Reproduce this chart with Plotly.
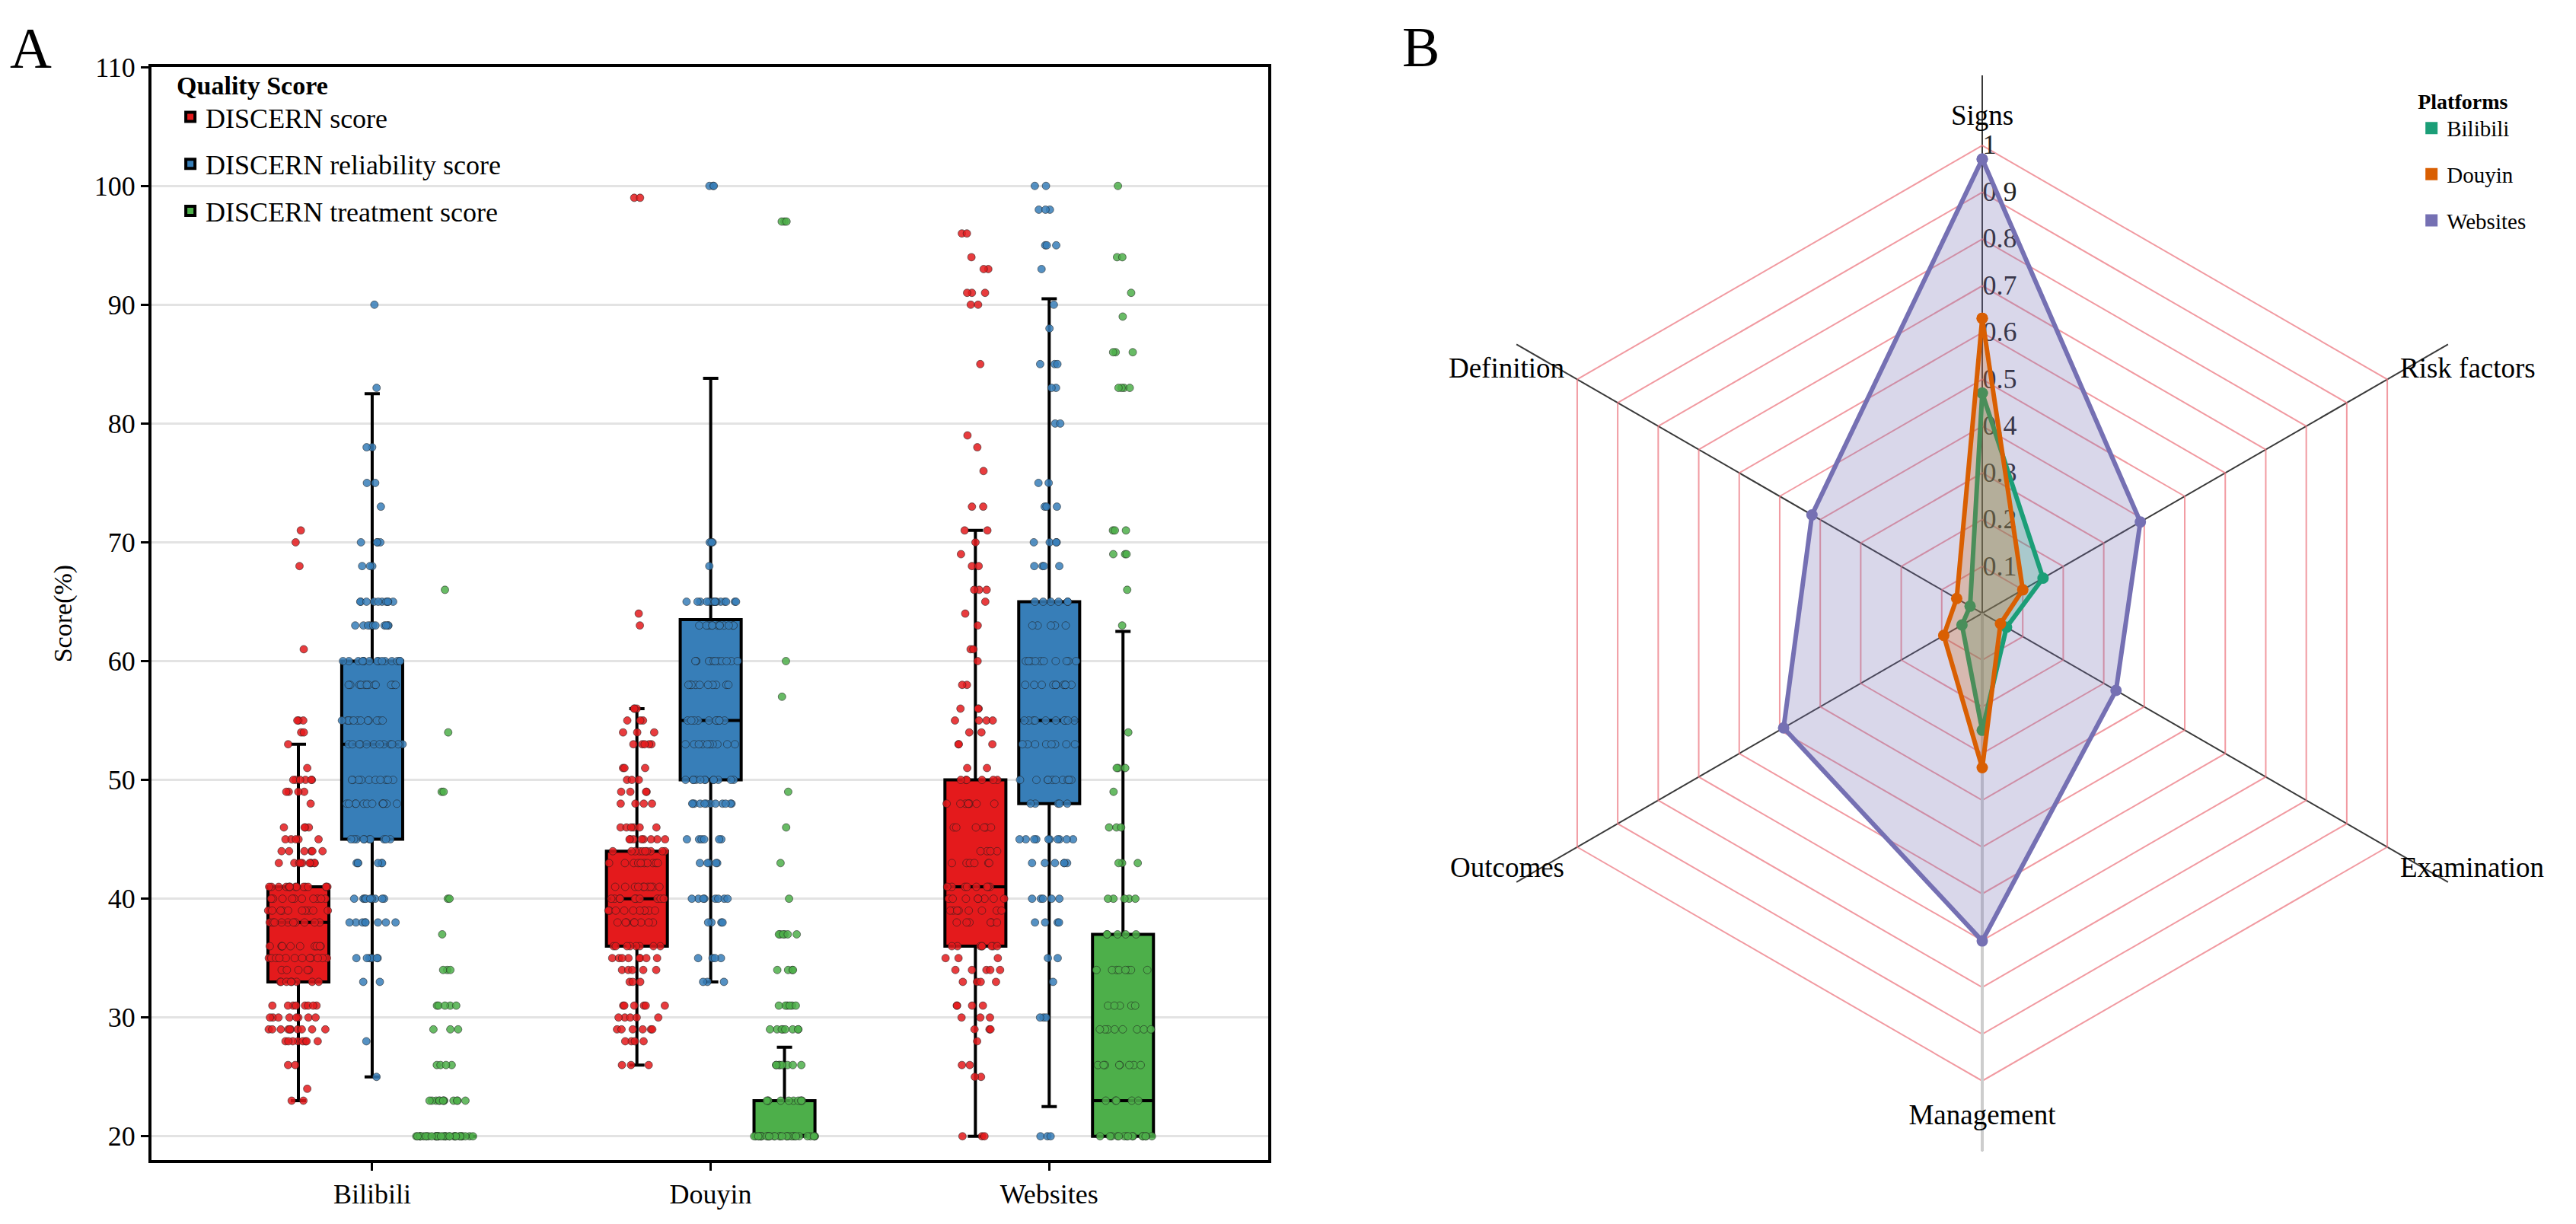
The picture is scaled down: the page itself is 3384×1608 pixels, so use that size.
import plotly.graph_objects as go

FONT = "Liberation Serif"

# ---------------- Panel A data ----------------
platforms = ["Bilibili", "Douyin", "Websites"]
series_names = ["DISCERN score", "DISCERN reliability score", "DISCERN treatment score"]
series_colors = ["#E41A1C", "#377EB8", "#4DAF4A"]

# box statistics per platform (Bilibili, Douyin, Websites)
q1_total = [33, 36, 36]
med_total = [38, 40, 41]
q3_total = [41, 44, 50]
low_total = [23, 26, 20]
up_total = [53, 56, 71]

q1_rel = [45, 50, 48]
med_rel = [53, 55, 55]
q3_rel = [60, 63.5, 65]
low_rel = [25, 33, 22.5]
up_rel = [82.5, 83.8, 90.5]

q1_treat = [20, 20, 20]
med_treat = [20, 20, 23]
q3_treat = [20, 23, 37]
low_treat = [20, 20, 20]
up_treat = [20, 27.5, 62.5]

# observed scores as (value, count)
bili_total = [(71,1),(70,1),(68,1),(61,1),(55,3),(54,2),(53,1),(51,1),(50,6),(49,4),(48,1),(46,4),(45,5),
              (44,6),(43,10),(41,15),(40,10),(39,10),(38,10),(36,10),(35,12),(34,5),(33,8),(31,8),(30,8),
              (29,10),(28,8),(26,2),(24,1),(23,2)]
bili_rel = [(90,1),(83,1),(78,2),(75,2),(73,1),(70,4),(68,3),(65,10),(63,10),(60,15),(58,12),(55,12),(53,12),
            (50,10),(48,12),(45,10),(43,6),(40,10),(38,8),(35,6),(33,2),(28,1),(25,1)]
bili_treat = [(66,1),(54,1),(49,2),(40,2),(37,1),(34,3),(31,5),(29,3),(26,4),(23,12),(20,35)]

douyin_total = [(99,2),(64,1),(63,1),(56,3),(55,3),(54,3),(53,5),(51,3),(50,3),(49,4),(48,4),(46,6),(45,8),
                (44,10),(43,10),(41,10),(40,10),(39,10),(38,8),(36,8),(35,8),(34,5),(33,3),(31,6),(30,5),
                (29,6),(28,4),(26,3)]
douyin_rel = [(100,3),(70,3),(68,1),(65,15),(63,12),(60,12),(58,10),(55,10),(53,10),(50,12),(48,12),(45,6),
              (43,5),(40,8),(38,4),(35,4),(33,3)]
douyin_treat = [(97,3),(60,1),(57,1),(49,1),(46,1),(43,1),(40,1),(37,6),(34,4),(31,6),(29,8),(26,8),(23,10),(20,30)]

web_total = [(96,2),(94,1),(93,2),(91,3),(90,2),(85,1),(79,1),(78,1),(76,1),(73,2),(71,2),(70,1),(69,1),(68,2),
             (66,3),(65,1),(64,1),(63,1),(61,2),(60,1),(58,2),(56,3),(55,4),(54,2),(53,3),(51,2),(50,6),(48,8),
             (46,6),(44,4),(43,6),(41,8),(40,8),(39,8),(38,6),(36,8),(35,3),(34,5),(33,4),(31,4),(30,3),(29,3),
             (28,1),(26,2),(25,2),(20,3)]
web_rel = [(100,2),(98,3),(95,3),(93,1),(90,1),(88,1),(85,3),(83,2),(80,2),(75,2),(73,3),(70,4),(68,4),(65,6),
           (63,5),(60,10),(58,10),(55,10),(53,8),(50,10),(48,5),(45,10),(43,6),(40,5),(38,4),(35,2),(33,1),(30,3),(20,3)]
web_treat = [(100,1),(94,2),(91,1),(89,1),(86,3),(83,4),(71,3),(69,3),(66,1),(63,1),(54,1),(51,3),(49,1),(46,3),
             (43,3),(40,5),(37,5),(34,8),(31,5),(29,8),(26,8),(23,5),(20,15)]

y_ticks = [20, 30, 40, 50, 60, 70, 80, 90, 100, 110]

# ---------------- Panel B data ----------------
radar_axes = ["Signs", "Risk factors", "Examination", "Management", "Outcomes", "Definition"]
radar_bilibili = [0.47, 0.15, 0.06, 0.25, 0.05, 0.03]
radar_douyin = [0.63, 0.10, 0.045, 0.33, 0.095, 0.063]
radar_websites = [0.97, 0.39, 0.33, 0.70, 0.49, 0.42]
radar_names = ["Bilibili", "Douyin", "Websites"]
radar_colors = ["#1B9E77", "#D95F02", "#7570B3"]
radar_fills = ["rgba(27,158,119,0.25)", "rgba(217,95,2,0.25)", "rgba(117,112,179,0.28)"]
radial_ticks = [0.1, 0.2, 0.3, 0.4, 0.5, 0.6, 0.7, 0.8, 0.9, 1.0]
radial_ticktext = ["0.1", "0.2", "0.3", "0.4", "0.5", "0.6", "0.7", "0.8", "0.9", "1"]


def expand(pairs):
    return [v for v, c in pairs for _ in range(c)]


fig = go.Figure()

stats = [
    (q1_total, med_total, q3_total, low_total, up_total),
    (q1_rel, med_rel, q3_rel, low_rel, up_rel),
    (q1_treat, med_treat, q3_treat, low_treat, up_treat),
]
points = [
    [bili_total, douyin_total, web_total],
    [bili_rel, douyin_rel, web_rel],
    [bili_treat, douyin_treat, web_treat],
]

# boxes from precomputed statistics
for i, name in enumerate(series_names):
    q1, med, q3, lo, up = stats[i]
    fig.add_trace(go.Box(
        x=platforms, q1=q1, median=med, q3=q3, lowerfence=lo, upperfence=up,
        name=name, offsetgroup=name, legendgroup=name, legend="legend",
        fillcolor=series_colors[i], line=dict(color="black", width=4),
        whiskerwidth=0.25, boxpoints=False, hoverinfo="skip",
    ))

# jittered observations
pt_rgba = ["rgba(228,26,28,0.85)", "rgba(55,126,184,0.85)", "rgba(77,175,74,0.85)"]
for i, name in enumerate(series_names):
    xs, ys = [], []
    for p, pairs in zip(platforms, points[i]):
        vals = expand(pairs)
        ys += vals
        xs += [p] * len(vals)
    fig.add_trace(go.Box(
        x=xs, y=ys, name=name, offsetgroup=name, showlegend=False,
        boxpoints="all", jitter=1, pointpos=0,
        fillcolor="rgba(0,0,0,0)", line=dict(color="rgba(0,0,0,0)", width=0),
        marker=dict(color=pt_rgba[i], size=10, line=dict(color="rgba(30,30,30,0.55)", width=1)),
        hoverinfo="skip",
    ))

# ---------------- radar ----------------
# decoration polar (hexagon grid, spokes)
fig.add_trace(go.Scatterpolar(
    r=radar_websites, theta=radar_axes, mode="lines", line=dict(color="rgba(0,0,0,0)", width=0),
    subplot="polar", showlegend=False, hoverinfo="skip",
))

all_radar = [radar_bilibili, radar_douyin, radar_websites]
draw_order = [2, 0, 1]
for k in draw_order:
    vals = all_radar[k]
    fig.add_trace(go.Scatterpolar(
        r=vals + vals[:1], theta=radar_axes + radar_axes[:1],
        mode="lines+markers", fill="toself", fillcolor=radar_fills[k],
        line=dict(color=radar_colors[k], width=6), marker=dict(color=radar_colors[k], size=15),
        subplot="polar2", name=radar_names[k], showlegend=False, hoverinfo="skip",
    ))
# legend entries for radar
for k, nm in enumerate(radar_names):
    fig.add_trace(go.Scatterpolar(
        r=[None], theta=[None], mode="markers", name=nm, subplot="polar2",
        marker=dict(color=radar_colors[k], symbol="square", size=16),
        legend="legend2", legendgroup="r" + nm, legendrank=k + 1, showlegend=True,
    ))

W, H = 3384, 1608
fig.update_layout(
    width=W, height=H, margin=dict(l=0, r=0, t=0, b=0, pad=0),
    paper_bgcolor="white", plot_bgcolor="white",
    font=dict(family=FONT, size=36, color="black"),
    boxmode="group", boxgap=0.346, boxgroupgap=0.174,
    xaxis=dict(
        domain=[199 / W, 1666 / W], type="category", categoryorder="array", categoryarray=platforms,
        range=[-0.652, 2.647], showline=True, mirror=True, linecolor="black", linewidth=4,
        ticks="outside", ticklen=10, tickwidth=3, tickcolor="black", showgrid=False,
        tickfont=dict(size=36, family=FONT), zeroline=False,
    ),
    yaxis=dict(
        domain=[1 - 1523 / H, 1 - 70 / H], range=[18, 110], tickvals=y_ticks,
        showline=True, mirror=True, linecolor="black", linewidth=4,
        ticks="outside", ticklen=10, tickwidth=3, tickcolor="black",
        showgrid=True, gridcolor="#E3E3E3", gridwidth=3, zeroline=False,
        tickfont=dict(size=36, family=FONT),
        title=dict(text="Score(%)", font=dict(size=34, family=FONT), standoff=20),
    ),
    legend=dict(
        x=0.068, y=0.962, xanchor="left", yanchor="top", bgcolor="rgba(0,0,0,0)",
        title=dict(text="<b>Quality Score</b>", font=dict(size=34, family=FONT)),
        font=dict(size=36, family=FONT), traceorder="grouped", tracegroupgap=12,
    ),
    legend2=dict(
        x=0.938, y=0.945, xanchor="left", yanchor="top", bgcolor="rgba(0,0,0,0)",
        title=dict(text="<b>Platforms</b>", font=dict(size=28, family=FONT)),
        font=dict(size=29, family=FONT), traceorder="grouped", tracegroupgap=20,
    ),
    polar=dict(
        domain=dict(x=[1889 / W, 3319 / W], y=[1 - 1511 / H, 1 - 81 / H]),
        gridshape="linear", bgcolor="white",
        radialaxis=dict(range=[0, 1.15], tickvals=radial_ticks, showticklabels=False, ticks="",
                        showgrid=True, gridcolor="rgba(236,120,130,0.75)", gridwidth=2,
                        showline=True, linecolor="#CDCDCD", linewidth=4, angle=270),
        angularaxis=dict(direction="clockwise", rotation=90, showgrid=True, gridcolor="#3A3A3A",
                         gridwidth=1.5, showline=False, showticklabels=False, ticks=""),
    ),
    polar2=dict(
        domain=dict(x=[1963 / W, 3245 / W], y=[1 - 1437 / H, 1 - 155 / H]),
        gridshape="linear", bgcolor="rgba(0,0,0,0)",
        radialaxis=dict(range=[0, 1.03], tickvals=radial_ticks, ticktext=radial_ticktext,
                        showgrid=False, showline=False, ticks="", angle=90, tickangle=90,
                        layer="below traces",
                        tickfont=dict(size=36, family=FONT, color="#222")),
        angularaxis=dict(direction="clockwise", rotation=90, showgrid=False, showline=False,
                         ticks="", tickfont=dict(size=37, family=FONT)),
    ),
    annotations=[
        dict(text="A", x=11 / W, y=1, xref="paper", yref="paper", xanchor="left",
             yanchor="top", showarrow=False, font=dict(size=76, family=FONT)),
        dict(text="B", x=1840 / W, y=1, xref="paper", yref="paper", xanchor="left",
             yanchor="top", showarrow=False, font=dict(size=74, family=FONT)),
    ],
)

fig.write_html("out.html", config={"displayModeBar": False},
               post_script="document.body.style.margin='0';document.body.style.overflow='hidden';")
